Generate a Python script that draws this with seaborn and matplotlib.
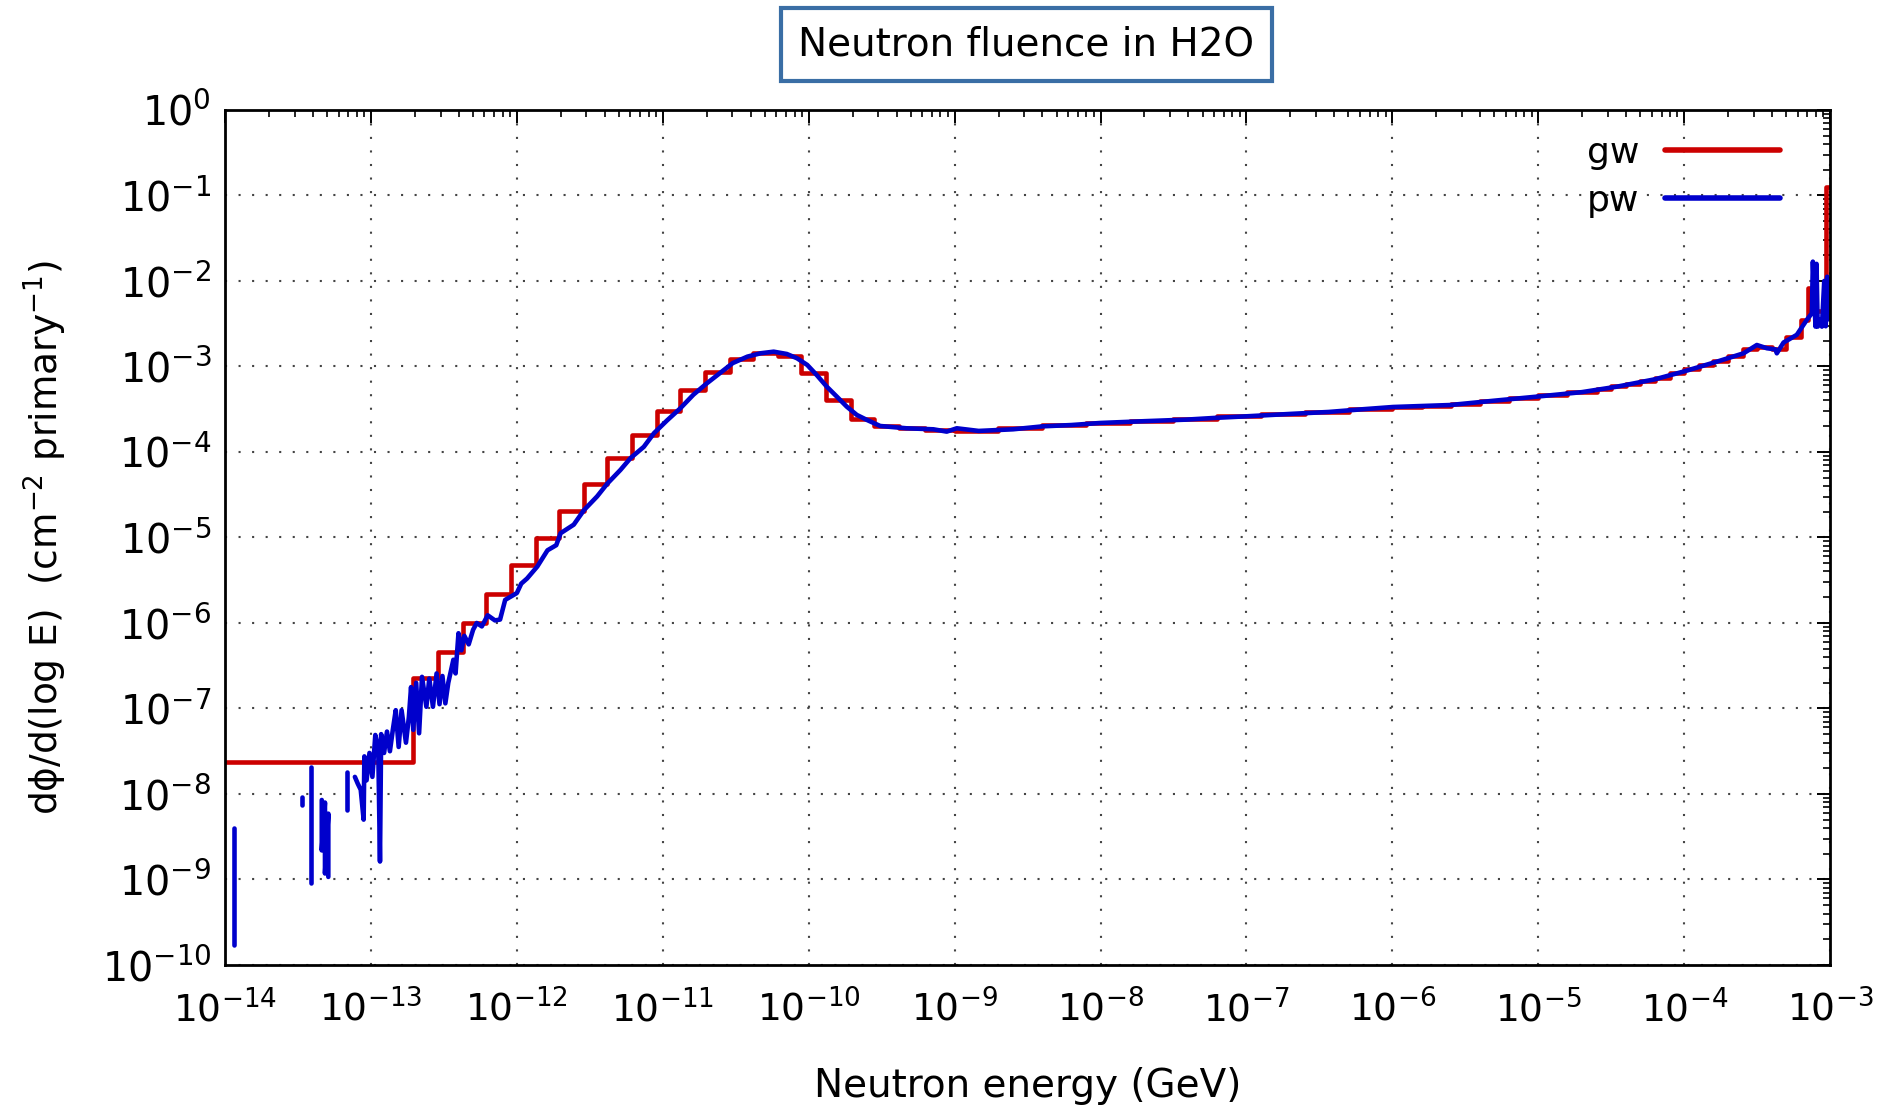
import numpy as np
import pandas as pd
import matplotlib.pyplot as plt
import seaborn as sns
from matplotlib.lines import Line2D
from matplotlib.ticker import LogLocator, NullFormatter

nan = np.nan

# === gw: group-wise histogram (bin edges as log10 E[GeV], flux per bin) ===
gw_log_edges = [-14.0, -12.71, -12.54, -12.37, -12.21, -12.04, -11.87, -11.71, -11.54,
                -11.38, -11.21, -11.04, -10.88, -10.71, -10.54, -10.38, -10.21, -10.05,
                -9.88, -9.71, -9.55, -9.38, -9.2, -9.0, -8.7, -8.4, -8.1, -7.8, -7.5,
                -7.2, -6.9, -6.6, -6.3, -6.0, -5.8, -5.6, -5.4, -5.2, -5.0, -4.8, -4.6,
                -4.5, -4.4, -4.3, -4.2, -4.1, -4.0, -3.9, -3.8, -3.7, -3.6, -3.5, -3.4,
                -3.3, -3.2, -3.15, -3.1, -3.03, -3.0]
gw_flux = [2.35e-8, 2.25e-7, 4.6e-7, 1.0e-6, 2.2e-6, 4.8e-6, 9.8e-6, 2.06e-5, 4.2e-5,
           8.6e-5, 1.58e-4, 3.04e-4, 5.3e-4, 8.7e-4, 1.21e-3, 1.43e-3, 1.33e-3, 8.3e-4,
           4.1e-4, 2.4e-4, 2.0e-4, 1.9e-4, 1.82e-4, 1.78e-4, 1.9e-4, 2.07e-4, 2.2e-4,
           2.3e-4, 2.45e-4, 2.6e-4, 2.75e-4, 2.95e-4, 3.15e-4, 3.4e-4, 3.49e-4, 3.68e-4,
           3.98e-4, 4.29e-4, 4.62e-4, 5.0e-4, 5.5e-4, 5.85e-4, 6.3e-4, 6.8e-4, 7.4e-4,
           8.3e-4, 9.3e-4, 1.05e-3, 1.17e-3, 1.33e-3, 1.58e-3, 1.68e-3, 1.6e-3, 2.24e-3,
           3.5e-3, 8.3e-3, 4.5e-3, 0.126]

# === pw: point-wise result (log10 E, log10 flux); nan separates empty-bin gaps ===
pw_log_e = [-13.94, -13.94, nan,
            -13.47, -13.47, nan,
            -13.41, -13.41, nan,
            -13.337, -13.337, -13.315, -13.315, -13.292, -13.292, nan,
            -13.166, -13.166, nan,
            -13.11, -13.09, -13.07, -13.05, -13.045, -13.03, -13.01, -12.99, -12.97,
            -12.95, -12.938, -12.93, -12.91, -12.89, -12.87, -12.85, -12.83, -12.81,
            -12.79, -12.76, -12.74, -12.725, -12.71, -12.69, -12.67, -12.65, -12.62,
            -12.60, -12.575, -12.55, -12.53, -12.51, -12.49, -12.47, -12.435, -12.42,
            -12.40, -12.38, -12.36, -12.33, -12.30, -12.275, -12.24, -12.20, -12.15,
            -12.115, -12.08, -12.03, -12.0, -11.97, -11.93, -11.86, -11.79, -11.73,
            -11.70, -11.61, -11.54, -11.45, -11.38, -11.29, -11.22, -11.13, -11.06,
            -10.97, -10.88, -10.79, -10.70, -10.61, -10.52, -10.42, -10.33, -10.24,
            -10.15, -10.08, -10.01, -9.945, -9.876, -9.807, -9.739, -9.67, -9.60,
            -9.51, -9.33, -9.145, -9.054, -8.985, -8.835, -8.6, -8.394, -8.2, -8.003,
            -7.7, -7.415, -7.2, -7.0, -6.7, -6.436, -6.2, -5.995, -5.604, -5.3, -5.01,
            -4.7, -4.46, -4.2, -4.005, -3.776, -3.593, -3.502, -3.433, -3.375, -3.365,
            -3.319, -3.228, -3.16, -3.125, -3.118, -3.10, -3.093, -3.085, -3.07,
            -3.056, -3.04, -3.03, -3.02, -3.005]
pw_log_flux = [-8.40, -9.77, nan,
               -8.03, -8.13, nan,
               -7.68, -9.04, nan,
               -8.07, -8.66, -8.10, -8.93, -8.23, -8.97, nan,
               -7.74, -8.19, nan,
               -7.80, -7.88, -7.95, -8.30, -7.56, -7.84, -7.52, -7.80, -7.31,
               -7.45, -8.79, -7.30, -7.52, -7.27, -7.50, -7.25, -7.02, -7.45,
               -7.02, -7.40, -7.10, -6.75, -7.25, -6.70, -7.29, -6.63, -6.98,
               -6.65, -6.98, -6.59, -6.95, -6.62, -6.94, -6.70, -6.43, -6.59,
               -6.12, -6.32, -6.15, -6.25, -6.08, -6.00, -6.04, -5.91, -5.97,
               -5.96, -5.73, -5.68, -5.65, -5.54, -5.48, -5.34, -5.15, -5.09,
               -4.95, -4.85, -4.68, -4.52, -4.37, -4.21, -4.07, -3.94, -3.78,
               -3.63, -3.49, -3.33, -3.20, -3.08, -2.96, -2.885, -2.846, -2.827,
               -2.854, -2.904, -2.982, -3.10, -3.236, -3.353, -3.47, -3.567, -3.626,
               -3.696, -3.723, -3.735, -3.762, -3.723, -3.754, -3.735, -3.70, -3.685, -3.661,
               -3.64, -3.622, -3.60, -3.583, -3.555, -3.532, -3.50, -3.474, -3.451, -3.40, -3.353,
               -3.30, -3.236, -3.15, -3.06, -2.944, -2.846, -2.749, -2.787, -2.80, -2.846,
               -2.72, -2.63, -2.456, -2.378, -1.774, -2.534, -1.80, -2.534, -2.45,
               -2.534, -2.0, -2.53, -1.95, -2.45]

RED = "#cc0000"
BLUE = "#0000cc"

# === build tables ===
gw = pd.DataFrame({"E": 10.0 ** np.array(gw_log_edges),
                   "flux": np.append(gw_flux, gw_flux[-1])})

pw = pd.DataFrame({"logE": pw_log_e, "logF": pw_log_flux})
pw["seg"] = pw["logE"].isna().cumsum()
pw = pw.dropna()
pw["E"] = 10.0 ** pw["logE"]
pw["flux"] = 10.0 ** pw["logF"]

# === plot ===
sns.set_style("white")
plt.rcParams["font.family"] = ["DejaVu Sans"]
plt.rcParams["mathtext.fontset"] = "dejavusans"
for key in ("text.color", "axes.labelcolor", "xtick.color", "ytick.color"):
    plt.rcParams[key] = "black"

fig = plt.figure(figsize=(18.83, 11.05), dpi=100)
ax = fig.add_axes([0.1195, 0.1267, 0.8524, 0.7738])
ax.set_xscale("log")
ax.set_yscale("log")

sns.lineplot(data=gw, x="E", y="flux", estimator=None, sort=False,
             drawstyle="steps-post", color=RED, lw=3.3, ax=ax, legend=False)
sns.lineplot(data=pw, x="E", y="flux", units="seg", estimator=None, sort=False,
             color=BLUE, lw=3.3, ax=ax, legend=False)

ax.set_xlim(1e-14, 1e-3)
ax.set_ylim(1e-10, 1e0)

ax.xaxis.set_major_locator(LogLocator(base=10, numticks=30))
ax.yaxis.set_major_locator(LogLocator(base=10, numticks=30))
for axis in (ax.xaxis, ax.yaxis):
    axis.set_minor_locator(LogLocator(base=10, subs=np.arange(2, 10), numticks=300))
    axis.set_minor_formatter(NullFormatter())

ax.tick_params(which="both", direction="in", top=True, right=True, color="black")
ax.tick_params(which="major", length=9.5, width=1.4)
ax.tick_params(which="minor", length=5, width=1.2)
ax.tick_params(axis="x", which="major", labelsize=27, pad=18)
ax.tick_params(axis="y", which="major", labelsize=28.5, pad=10)

for s in ax.spines.values():
    s.set_linewidth(2)
    s.set_color("black")

ax.grid(True, which="major", color="#444444", linestyle=(0, (1, 5.5)), lw=1.5)
ax.set_axisbelow(True)

ax.set_xlabel("Neutron energy (GeV)", fontsize=28)
ax.set_ylabel(r"dϕ/d(log E)  (cm$^{-2}$ primary$^{-1}$)", fontsize=27)
ax.xaxis.set_label_coords(0.5, -0.119)
ax.yaxis.set_label_coords(-0.097, 0.5)

handles = [Line2D([], [], color=RED, lw=4), Line2D([], [], color=BLUE, lw=4)]
ax.legend(handles, ["gw", "pw"], loc="upper right", bbox_to_anchor=(0.969, 0.970),
          frameon=False, markerfirst=False, fontsize=26, handlelength=3.2,
          handletextpad=0.7, borderpad=0, borderaxespad=0, labelspacing=0.4)

fig.text(0.545, 1 - 44 / 1105, "Neutron fluence in H2O", fontsize=28,
         ha="center", va="center",
         bbox=dict(boxstyle="square,pad=0.45", fc="white", ec="#3a6ea5", lw=3))

plt.savefig("out.png", dpi=100)
